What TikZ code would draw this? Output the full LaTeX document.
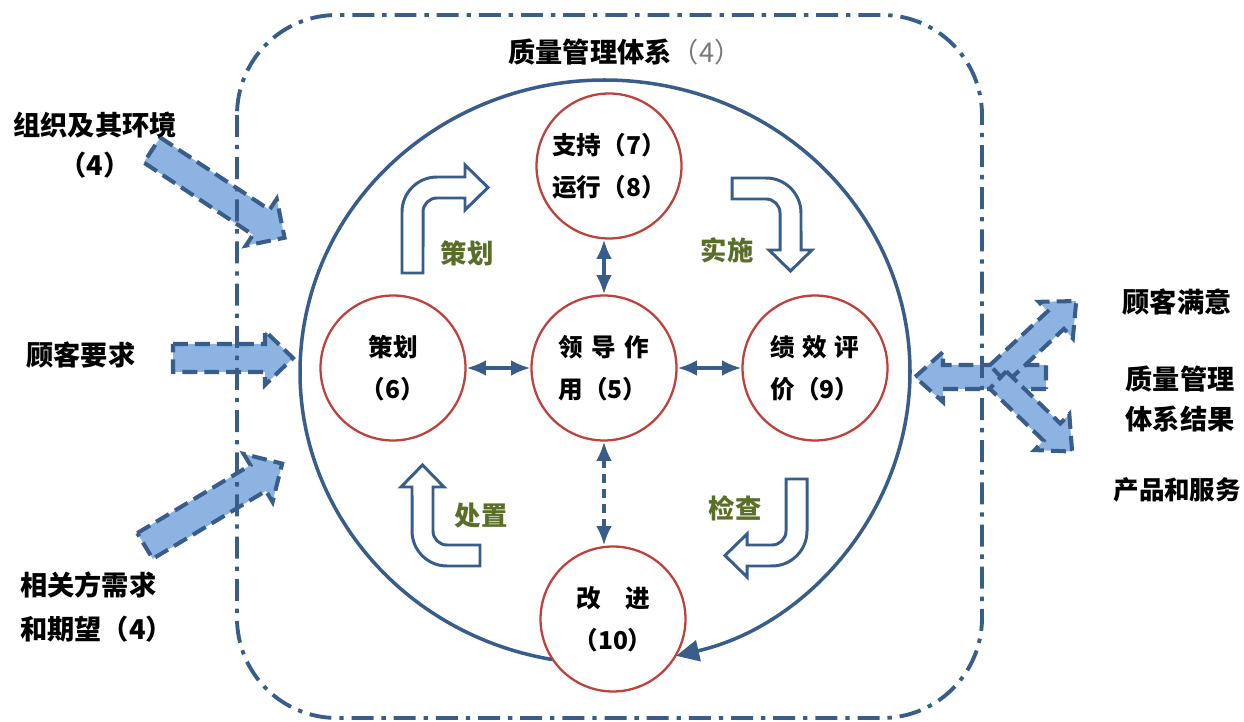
\documentclass[tikz,border=0pt]{standalone}
\usepackage{fontspec}
\newfontfamily\cjk{Noto Sans CJK SC}
\usetikzlibrary{arrows.meta}
\definecolor{lineblue}{RGB}{56,93,138}
\definecolor{fillblue}{RGB}{141,179,226}
\definecolor{ringred}{RGB}{192,64,60}
\definecolor{labelolive}{RGB}{90,110,40}
\definecolor{titlegray}{RGB}{120,120,120}
\tikzset{
  ring/.style={circle, draw=ringred, line width=1.3pt, fill=white, minimum size=2.9cm,
    inner sep=0pt, align=center, font=\cjk\bfseries\fontsize{14pt}{24pt}\selectfont},
  link/.style={lineblue, line width=1.8pt, {Latex[length=11pt,width=9pt]}-{Latex[length=11pt,width=9pt]}},
  fatbox/.style={fill=fillblue, draw=lineblue, line width=2.3pt, dash pattern=on 8.5pt off 4pt, line join=miter},
  bentbox/.style={draw=lineblue, fill=white, line width=1.7pt, line join=miter},
  boundary/.style={lineblue, line width=2.2pt, rounded corners=2cm,
    dash pattern=on 12.5pt off 4.5pt on 2.5pt off 4.5pt},
  steplabel/.style={labelolive, font=\cjk\bfseries\fontsize{15pt}{18pt}\selectfont},
  outlabel/.style={font=\cjk\bfseries\fontsize{15.5pt}{23pt}\selectfont}
}
% tail, angle, length, half shaft
\newcommand{\fatarrow}[4]{%
  \draw[fatbox, shift={#1}, rotate=#2]
    (0,-#4) -- ({#3-28},-#4) -- ({#3-28},{-#4-13}) -- (#3,0)
    -- ({#3-28},{#4+13}) -- ({#3-28},#4) -- (0,#4) -- cycle;}
\begin{document}
\begin{tikzpicture}[x=0.02cm, y=-0.02cm]
\useasboundingbox (0,0) rectangle (1244,722);
% inputs and outputs
\fatarrow{(152,150)}{-33.5}{159}{15}
\fatarrow{(173,358)}{0}{120}{14}
\fatarrow{(145,546)}{31}{160}{15}
\fatarrow{(1046,377)}{180}{131}{12}
\fatarrow{(998,374)}{43}{107}{12}
\fatarrow{(998,380)}{-44}{103}{12}
% system boundary
\draw[boundary] (237,15) rectangle (982,718);
\node[font=\cjk\bfseries\fontsize{15.5pt}{18pt}\selectfont] (qms) at (625,52)
  {质量管理体系{\mdseries\color{titlegray}（4）}};
% PDCA circles
\node[ring] (supp) at (609,166) {支持（7）\\运行（8）};
\node[ring] (plan) at (393,368) {策划\\（6）};
\node[ring, align=left] (lead) at (604,368) {领\hspace{0.35em}导\hspace{0.35em}作\\用（5）};
\node[ring, align=left] (eval) at (815,368) {绩\hspace{0.3em}效\hspace{0.3em}评\\价（9）};
\node[ring] (impr) at (613,619) {改\hspace{1em}进\\（10）};
\coordinate (ringc) at (605,372);
\draw[lineblue, line width=2pt, -{Triangle[length=13pt,width=12pt]}]
  (ringc) ++(260:6.1cm and 5.84cm) arc[start angle=260, end angle=-76.5, x radius=6.1cm, y radius=5.84cm];
\draw[link] (plan) -- (lead);
\draw[link] (lead) -- (eval);
\draw[link] (lead.north) -- (lead.north |- supp.south);
\draw[link, dash pattern=on 5pt off 3.5pt] (lead.south) -- (lead.south |- impr.north);
% bent arrows
\draw[bentbox] (402,273) -- (402,212) arc[start angle=180, end angle=90, radius=0.7cm]
  -- (465,177) -- (465,165) -- (488,187.5) -- (465,210) -- (465,198) -- (437,198)
  arc[start angle=90, end angle=180, radius=0.28cm] -- (423,273) -- cycle;
\draw[bentbox] (732,178) -- (766,178) arc[start angle=90, end angle=0, radius=0.7cm]
  -- (801,250) -- (812,250) -- (790.5,271) -- (769,250) -- (780,250) -- (780,213)
  arc[start angle=0, end angle=90, radius=0.28cm] -- (732,199) -- cycle;
\draw[bentbox] (786,479) -- (807,479) -- (807,531) arc[start angle=0, end angle=-90, radius=0.7cm]
  -- (747,566) -- (747,577) -- (725,555.5) -- (747,534) -- (747,545) -- (772,545)
  arc[start angle=-90, end angle=0, radius=0.28cm] -- cycle;
\draw[bentbox] (480,545) -- (480,566) -- (447,566) arc[start angle=-90, end angle=-180, radius=0.7cm]
  -- (412,487) -- (401,487) -- (422.5,465) -- (444,487) -- (433,487) -- (433,531)
  arc[start angle=180, end angle=270, radius=0.28cm] -- cycle;
\node[steplabel] (planlbl) at (467,253) {策划};
\node[steplabel] (dolbl) at (727,250) {实施};
\node[steplabel] (checklbl) at (735,508) {检查};
\node[steplabel] (actlbl) at (481,516) {处置};
% outside texts
\node[outlabel, align=center] (env) at (95,145) {组织及其环境\\（4）};
\node[outlabel] (req) at (81,355) {顾客要求};
\node[outlabel, align=left, anchor=west, font=\cjk\bfseries\fontsize{15.5pt}{25.5pt}\selectfont] (party) at (14,607) {相关方需求\\和期望（4）};
\node[outlabel] (satis) at (1177,302) {顾客满意};
\node[outlabel, align=center] (result) at (1180,399) {质量管理\\体系结果};
\node[outlabel, anchor=east, inner xsep=1pt, font=\cjk\bfseries\fontsize{14.5pt}{18pt}\selectfont] (prod) at (1243,490) {产品和服务};
\end{tikzpicture}
\end{document}
